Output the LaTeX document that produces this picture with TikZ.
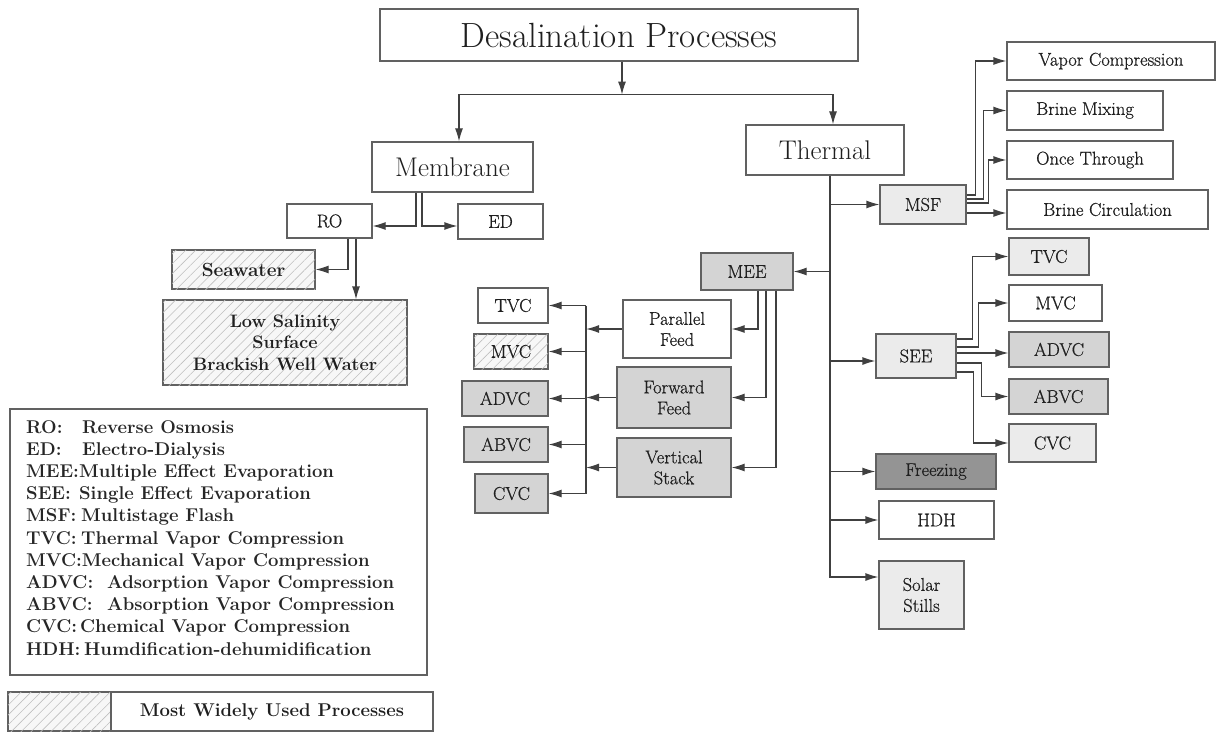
\documentclass[tikz,border=0pt]{standalone}
\usepackage{fontspec}
\newfontfamily\cfont{Latin Modern Roman}[FakeBold=0.6]
\usetikzlibrary{arrows.meta,patterns.meta,calc}
\begin{document}
\begin{tikzpicture}[x=1pt,y=-1pt,
  box/.style={draw=black!62, line width=1.2pt, inner sep=0pt, align=center, text=black!88, font=\cfont\fontsize{18.5}{21}\selectfont},
  wbox/.style={box, fill=white},
  lbox/.style={box, fill=black!8},
  mbox/.style={box, fill=black!17},
  dbox/.style={box, fill=black!42},
  hbox/.style={box, fill=black!3, font=\fontsize{19}{21.5}\selectfont\bfseries,
     postaction={pattern={Lines[angle=45,distance=7pt,line width=0.6pt]}, pattern color=black!25}},
  big/.style={font=\fontsize{27}{30}\selectfont},
  leg/.style={inner sep=0pt, text=black!85, font=\fontsize{18.5}{22}\selectfont\bfseries},
  arr/.style={draw=black!75, line width=1.2pt, -{Latex[length=13pt,width=8pt]}},
  ln/.style={draw=black!75, line width=1.2pt},
]
\useasboundingbox (0,0) rectangle (1218,733);

% ---- main boxes
\node[wbox, font=\fontsize{35}{40}\selectfont, minimum width=478, minimum height=52] (title) at (619,35) {Desalination Processes};
\node[wbox, big, minimum width=161, minimum height=50] (membrane) at (452.5,167) {Membrane};
\node[wbox, big, minimum width=158, minimum height=50] (thermal) at (825,150) {Thermal};

% ---- membrane branch
\node[wbox, minimum width=85, minimum height=34] (ro) at (329.5,221) {RO};
\node[wbox, minimum width=85, minimum height=35] (ed) at (500.5,221.5) {ED};
\node[hbox, minimum width=143, minimum height=39] (sea) at (243.5,269.5) {Seawater};
\node[hbox, font=\fontsize{18}{21.5}\selectfont\bfseries, minimum width=244, minimum height=85] (lowsal) at (285,342.5) {Low Salinity\\Surface\\Brackish Well Water};

% ---- MSF branch
\node[lbox, minimum width=86, minimum height=39] (msf) at (923,204.5) {MSF};
\node[wbox, minimum width=208, minimum height=38] (vc) at (1111,61) {Vapor Compression};
\node[wbox, minimum width=156, minimum height=39] (bm) at (1085,110.5) {Brine Mixing};
\node[wbox, minimum width=166, minimum height=38] (ot) at (1090,160) {Once Through};
\node[wbox, minimum width=201, minimum height=39] (bc) at (1107.5,209.5) {Brine Circulation};

% ---- SEE branch
\node[lbox, minimum width=80, minimum height=44] (see) at (916,356) {SEE};
\node[lbox, minimum width=80, minimum height=37] (stvc) at (1049,256.5) {TVC};
\node[wbox, minimum width=93, minimum height=36] (smvc) at (1055.5,303) {MVC};
\node[mbox, minimum width=100, minimum height=35] (sadvc) at (1059,349.5) {ADVC};
\node[mbox, minimum width=99, minimum height=35] (sabvc) at (1058.5,396.5) {ABVC};
\node[lbox, minimum width=87, minimum height=38] (scvc) at (1052.5,443) {CVC};

% ---- other thermal
\node[dbox, minimum width=120, minimum height=35] (freezing) at (936,471.5) {Freezing};
\node[wbox, minimum width=115, minimum height=38] (hdh) at (936.5,520) {HDH};
\node[lbox, minimum width=85, minimum height=68] (solar) at (921.5,595) {Solar\\Stills};

% ---- MEE branch
\node[mbox, minimum width=92, minimum height=37] (mee) at (747,271.5) {MEE};
\node[wbox, minimum width=108, minimum height=58] (pf) at (677,329) {Parallel\\Feed};
\node[mbox, minimum width=114, minimum height=61] (ff) at (674,397.5) {Forward\\Feed};
\node[mbox, minimum width=114, minimum height=59] (vs) at (674,467.5) {Vertical\\Stack};
\node[wbox, minimum width=70, minimum height=35] (mtvc) at (513,305.5) {TVC};
\node[hbox, font=\cfont\fontsize{18.5}{21}\selectfont, minimum width=74, minimum height=35] (mmvc) at (511,351.5) {MVC};
\node[mbox, minimum width=86, minimum height=35] (madvc) at (505,398.5) {ADVC};
\node[mbox, minimum width=84, minimum height=35] (mabvc) at (506,444.5) {ABVC};
\node[mbox, minimum width=73, minimum height=39] (mcvc) at (511.5,493.5) {CVC};

% ---- legend
\node[box, minimum width=417, minimum height=266] (legbox) at (218.5,542) {};
\node[leg, anchor=base west] (l1) at (26,433) {\makebox[56pt][l]{RO:}Reverse Osmosis};
\node[leg, anchor=base west] (l2) at (26,455.2) {\makebox[56pt][l]{ED:}Electro-Dialysis};
\node[leg, anchor=base west] (l3) at (26,477.4) {MEE:Multiple Effect Evaporation};
\node[leg, anchor=base west] (l4) at (26,499.6) {\makebox[53pt][l]{SEE:}Single Effect Evaporation};
\node[leg, anchor=base west] (l5) at (26,521.8) {\makebox[55pt][l]{MSF:}Multistage Flash};
\node[leg, anchor=base west] (l6) at (26,544) {\makebox[55pt][l]{TVC:}Thermal Vapor Compression};
\node[leg, anchor=base west] (l7) at (26,566.2) {MVC:Mechanical Vapor Compression};
\node[leg, anchor=base west] (l8) at (26,588.4) {\makebox[81pt][l]{ADVC:}Adsorption Vapor Compression};
\node[leg, anchor=base west] (l9) at (26,610.6) {\makebox[81pt][l]{ABVC:}Absorption Vapor Compression};
\node[leg, anchor=base west] (l10) at (26,632.8) {\makebox[54pt][l]{CVC:}Chemical Vapor Compression};
\node[leg, anchor=base west] (l11) at (26,655) {\makebox[58pt][l]{HDH:}Humdification-dehumidification};

\node[hbox, minimum width=103, minimum height=39] (swatch) at (59.5,711.5) {};
\node[box, font=\fontsize{18.5}{21}\selectfont\bfseries, minimum width=322, minimum height=39] (mwu) at (272,711.5) {Most Widely Used Processes};

% ---- connectors: top
\coordinate (j0) at ($(title.south)+(3,33)$);
\draw[arr] ($(title.south)+(3,0)$) -- (j0);
\draw[arr] (j0) -| ($(membrane.north)+(6.5,0)$);
\draw[arr] (j0) -| ($(thermal.north)+(8,0)$);

% membrane
\coordinate (roin) at ($(ro.east)+(0,5)$);
\coordinate (edin) at ($(ed.west)+(0,4.5)$);
\draw[arr] ($(membrane.south)+(-36.5,0)$) |- (roin);
\draw[arr] ($(membrane.south)+(-30.5,0)$) |- (edin);
\draw[arr] ($(ro.south)+(18.5,0)$) |- (sea.east);
\coordinate (rob) at ($(ro.south)+(26.5,0)$);
\draw[arr] (rob) -- (rob |- lowsal.north);

% thermal trunk
\coordinate (tk) at ($(thermal.south)+(5,0)$);
\coordinate (solin) at ($(solar.west)+(0,-18)$);
\draw[arr] (tk) |- (solin);
\draw[arr] (tk |- msf.west) -- (msf.west);
\draw[arr] (tk |- mee.east) -- (mee.east);
\coordinate (seein) at ($(see.west)+(0,5)$);
\draw[arr] (tk |- seein) -- (seein);
\draw[arr] (tk |- freezing.west) -- (freezing.west);
\draw[arr] (tk |- hdh.west) -- (hdh.west);

% MSF
\coordinate (m1) at ($(msf.east)+(0,-9.5)$);
\coordinate (m2) at ($(msf.east)+(0,-5.5)$);
\coordinate (m3) at ($(msf.east)+(0,-1.5)$);
\coordinate (m4) at ($(msf.east)+(0,8.5)$);
\draw[arr] (m1) -- ++(9,0) |- (vc.west);
\draw[arr] (m2) -- ++(17,0) |- (bm.west);
\draw[arr] (m3) -- ++(22,0) |- (ot.west);
\draw[arr] (m4) -- (bc.west |- m4);

% SEE
\coordinate (s1) at ($(see.east)+(0,-17)$);
\coordinate (s2) at ($(see.east)+(0,-9)$);
\coordinate (s3) at ($(see.east)+(0,-3)$);
\coordinate (s4) at ($(see.east)+(0,7)$);
\coordinate (s5) at ($(see.east)+(0,16)$);
\draw[arr] (s1) -- ++(16,0) |- (stvc.west);
\draw[arr] (s2) -- ++(22,0) |- (smvc.west);
\draw[arr] (s3) -- (sadvc.west |- s3);
\draw[arr] (s4) -- ++(25,0) |- (sabvc.west);
\draw[arr] (s5) -- ++(17,0) |- (scvc.west);

% MEE
\draw[arr] ($(mee.south)+(11,0)$) |- (pf.east);
\draw[arr] ($(mee.south)+(19,0)$) |- (ff.east);
\draw[arr] ($(mee.south)+(29,0)$) |- (vs.east);

\coordinate (bx) at (586,0);
\draw[arr] (pf.west) -- (pf.west -| bx);
\draw[arr] (ff.west) -- (ff.west -| bx);
\draw[arr] (vs.west) -- (vs.west -| bx);
\draw[ln] (bx |- mtvc.east) -- (bx |- mcvc.east);
\draw[arr] (bx |- mtvc.east) -- (mtvc.east);
\draw[arr] (bx |- mmvc.east) -- (mmvc.east);
\draw[arr] (bx |- madvc.east) -- (madvc.east);
\draw[arr] (bx |- mabvc.east) -- (mabvc.east);
\draw[arr] (bx |- mcvc.east) -- (mcvc.east);
\end{tikzpicture}
\end{document}
